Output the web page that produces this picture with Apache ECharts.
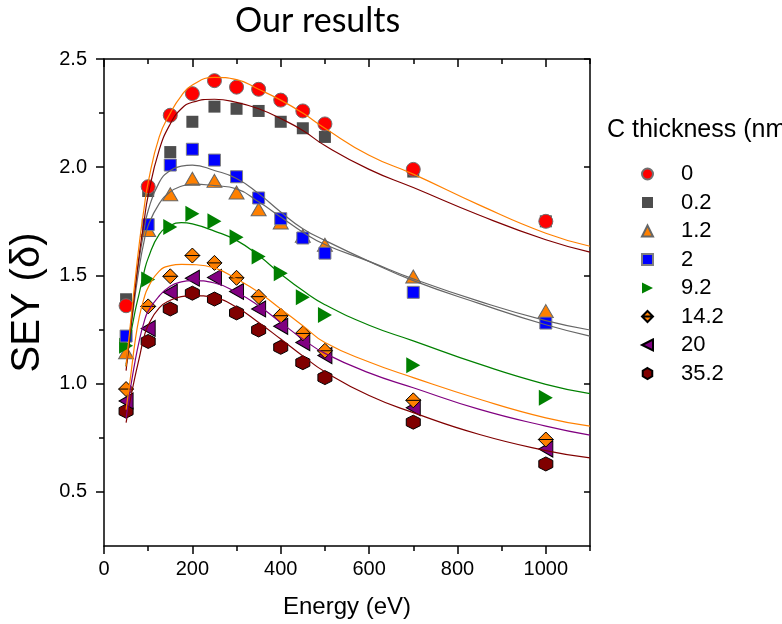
<!DOCTYPE html>
<html>
<head>
<meta charset="utf-8">
<script src="https://cdn.jsdelivr.net/npm/echarts@6/dist/echarts.min.js"></script>
<style>
  html, body { margin: 0; padding: 0; background: #ffffff; }
  #chart { width: 782px; height: 624px; }
</style>
</head>
<body>
<div id="chart"></div>
<script>
// Measured secondary electron yield (SEY) for each carbon thickness
const energies = [50, 100, 150, 200, 250, 300, 350, 400, 450, 500, 700, 1000];
const sey_0    = [1.36, 1.91, 2.24, 2.34, 2.40, 2.37, 2.36, 2.31, 2.26, 2.20, 1.99, 1.75];
const sey_0_2  = [1.39, 1.89, 2.07, 2.21, 2.28, 2.27, 2.26, 2.21, 2.18, 2.14, 1.98, 1.75];
const sey_1_2  = [1.145, 1.71, 1.875, 1.947, 1.937, 1.883, 1.806, 1.745, 1.683, 1.642, 1.495, 1.335];
const sey_2    = [1.22, 1.735, 2.01, 2.083, 2.033, 1.956, 1.858, 1.762, 1.673, 1.603, 1.422, 1.28];
const sey_9_2  = [1.175, 1.481, 1.724, 1.785, 1.75, 1.677, 1.588, 1.510, 1.399, 1.317, 1.085, 0.935];
const sey_14_2 = [0.975, 1.357, 1.496, 1.592, 1.558, 1.489, 1.402, 1.314, 1.232, 1.152, 0.923, 0.742];
const sey_20   = [0.92, 1.255, 1.422, 1.487, 1.491, 1.426, 1.345, 1.265, 1.19, 1.13, 0.889, 0.698];
const sey_35_2 = [0.873, 1.195, 1.345, 1.418, 1.391, 1.327, 1.248, 1.168, 1.097, 1.028, 0.822, 0.629];

// Fitted yield curves, sampled along the energy axis
const fitEnergies = [50, 60, 70, 80, 90, 100, 125, 150, 175, 200, 250, 300, 350, 400, 450, 500, 600, 700, 850, 1000, 1100];
const fit_0    = [1.08, 1.28, 1.47, 1.65, 1.80, 1.93, 2.14, 2.25, 2.33, 2.38, 2.415, 2.405, 2.36, 2.31, 2.25, 2.18, 2.055, 1.968, 1.825, 1.695, 1.635];
const fit_0_2  = [1.06, 1.25, 1.43, 1.60, 1.74, 1.87, 2.08, 2.20, 2.27, 2.30, 2.314, 2.30, 2.27, 2.225, 2.17, 2.10, 1.99, 1.906, 1.778, 1.665, 1.608];
const fit_1_2  = [1.08, 1.24, 1.40, 1.54, 1.65, 1.73, 1.832, 1.886, 1.912, 1.922, 1.915, 1.90, 1.84, 1.77, 1.70, 1.643, 1.565, 1.484, 1.38, 1.291, 1.248];
const fit_2    = [1.09, 1.26, 1.43, 1.58, 1.70, 1.80, 1.93, 1.985, 2.005, 2.01, 1.985, 1.948, 1.878, 1.793, 1.716, 1.662, 1.565, 1.476, 1.37, 1.272, 1.22];
const fit_9_2  = [1.08, 1.22, 1.33, 1.42, 1.51, 1.58, 1.69, 1.73, 1.744, 1.738, 1.705, 1.662, 1.592, 1.507, 1.43, 1.365, 1.27, 1.198, 1.09, 0.997, 0.954];
const fit_14_2 = [0.88, 1.03, 1.19, 1.31, 1.39, 1.445, 1.52, 1.545, 1.551, 1.55, 1.535, 1.484, 1.422, 1.345, 1.268, 1.19, 1.10, 1.028, 0.928, 0.842, 0.804];
const fit_20   = [0.84, 0.98, 1.10, 1.20, 1.28, 1.335, 1.405, 1.45, 1.47, 1.476, 1.465, 1.422, 1.36, 1.283, 1.206, 1.14, 1.05, 0.981, 0.881, 0.804, 0.762];
const fit_35_2 = [0.82, 0.93, 1.03, 1.12, 1.21, 1.27, 1.35, 1.385, 1.402, 1.407, 1.397, 1.353, 1.283, 1.206, 1.128, 1.055, 0.945, 0.866, 0.765, 0.691, 0.657];

const thicknessLabels = ['0', '0.2', '1.2', '2', '9.2', '14.2', '20', '35.2'];

// Tick positions
const xMajorTicks = [0, 200, 400, 600, 800, 1000];
const xMinorTicks = [100, 300, 500, 700, 900, 1100];
const yMajorTicks = [0.5, 1.0, 1.5, 2.0, 2.5];
const yMinorTicks = [0.75, 1.25, 1.75, 2.25];

const FONT = '"Liberation Sans", Arial, sans-serif';

const pairs = (xs, ys) => xs.map((x, i) => [x, ys[i]]);

// Marker shapes
const RIGHT_TRI = 'path://M0,0 L10,5 L0,10 Z';
const LEFT_TRI = 'path://M10,0 L0,5 L10,10 Z';
const HEXAGON = 'path://M5,0 L9.33,2.5 L9.33,7.5 L5,10 L0.67,7.5 L0.67,2.5 Z';
const SPLIT_DIAMOND = 'path://M5,0 L10,5 L5,10 L0,5 Z M0,5 L10,5';

// One entry per thickness; listed in drawing order (first drawn lowest)
const sets = [
  { name: '35.2', data: sey_35_2, fit: fit_35_2, symbol: HEXAGON, size: 14, color: '#800000', border: '#000000', bw: 1, fitColor: '#800000' },
  { name: '20', data: sey_20, fit: fit_20, symbol: LEFT_TRI, size: [14, 16], color: '#800080', border: '#000000', bw: 1, fitColor: '#800080' },
  { name: '14.2', data: sey_14_2, fit: fit_14_2, symbol: SPLIT_DIAMOND, size: 15, color: '#FF8000', border: '#000000', bw: 1, fitColor: '#FF8000' },
  { name: '1.2', data: sey_1_2, fit: fit_1_2, symbol: 'triangle', size: [15, 13], color: '#FF8000', border: '#666666', bw: 1, fitColor: '#666666' },
  { name: '9.2', data: sey_9_2, fit: fit_9_2, symbol: RIGHT_TRI, size: [14, 16], color: '#008000', border: '#008000', bw: 0, fitColor: '#008000' },
  { name: '2', data: sey_2, fit: fit_2, symbol: 'rect', size: 12, color: '#0000FF', border: '#808080', bw: 1, fitColor: '#666666' },
  { name: '0.2', data: sey_0_2, fit: fit_0_2, symbol: 'rect', size: 12, color: '#4D4D4D', border: '#4D4D4D', bw: 0, fitColor: '#800000' },
  { name: '0', data: sey_0, fit: fit_0, symbol: 'circle', size: 14, color: '#FF0000', border: '#707070', bw: 1, fitColor: '#FF8000' }
];

const series = [];
sets.forEach(s => {
  series.push({
    name: s.name,
    type: 'scatter',
    xAxisIndex: 0,
    yAxisIndex: 0,
    symbol: s.symbol,
    symbolSize: s.size,
    itemStyle: { color: s.color, borderColor: s.border, borderWidth: s.bw, opacity: 1 },
    emphasis: { disabled: true },
    data: pairs(energies, s.data),
    z: 2
  });
});
sets.forEach(s => {
  series.push({
    name: 'fit ' + s.name,
    type: 'line',
    xAxisIndex: 0,
    yAxisIndex: 0,
    showSymbol: false,
    smooth: true,
    lineStyle: { color: s.fitColor, width: 1.2 },
    emphasis: { disabled: true },
    data: pairs(fitEnergies, s.fit),
    z: 3
  });
});

const axisLine = { show: true, onZero: false, lineStyle: { color: '#000', width: 1.5 } };
const noLine = { show: false };
const tickStyle = { color: '#000', width: 1.5 };

function xAxisDef(position, values, inside, length, withLabels) {
  return {
    type: 'value', position: position, min: 0, max: 1100,
    axisLine: withLabels !== null ? axisLine : noLine,
    axisTick: { show: true, inside: inside, length: length, customValues: values, lineStyle: tickStyle },
    axisLabel: withLabels ? {
      show: true, customValues: xMajorTicks, margin: 13,
      fontFamily: FONT, fontSize: 20, color: '#000',
      formatter: v => String(v)
    } : { show: false },
    splitLine: { show: false },
    minorTick: { show: false }
  };
}
function yAxisDef(position, values, inside, length, withLabels) {
  return {
    type: 'value', position: position, min: 0.25, max: 2.5,
    axisLine: withLabels !== null ? axisLine : noLine,
    axisTick: { show: true, inside: inside, length: length, customValues: values, lineStyle: tickStyle },
    axisLabel: withLabels ? {
      show: true, customValues: yMajorTicks, margin: 17,
      fontFamily: FONT, fontSize: 20, color: '#000',
      formatter: v => v.toFixed(1)
    } : { show: false },
    splitLine: { show: false },
    minorTick: { show: false }
  };
}

const xAxes = [
  Object.assign(xAxisDef('bottom', xMajorTicks, false, 8, true), {
    name: 'Energy (eV)', nameLocation: 'middle', nameGap: 49,
    nameTextStyle: { fontFamily: FONT, fontSize: 24, color: '#000' }
  }),
  xAxisDef('bottom', xMinorTicks, false, 5, null),
  xAxisDef('top', xMajorTicks, true, 8, false),
  xAxisDef('top', xMinorTicks, true, 5, null)
];
const yAxes = [
  Object.assign(yAxisDef('left', yMajorTicks, false, 8, true), {
    name: 'SEY (δ)', nameLocation: 'middle', nameGap: 46,
    nameTextStyle: { fontFamily: FONT, fontSize: 40, color: '#000' }
  }),
  yAxisDef('left', yMinorTicks, false, 5, null),
  yAxisDef('right', yMajorTicks, true, 6, false),
  yAxisDef('right', yMinorTicks, true, 5, null)
];

const chart = echarts.init(document.getElementById('chart'), null, { renderer: 'canvas' });
chart.setOption({
  backgroundColor: '#ffffff',
  animation: false,
  title: [
    { text: 'Our results', left: 235, top: 4, padding: 0,
      textStyle: { fontFamily: 'Lato, "Open Sans", sans-serif', fontSize: 34, fontWeight: 'normal', color: '#000' } },
    { text: 'C thickness (nm)', left: 607, top: 118, padding: 0,
      textStyle: { fontFamily: FONT, fontSize: 25, fontWeight: 'normal', color: '#000' } }
  ],
  grid: { left: 104, right: 192, top: 59, bottom: 78, containLabel: false },
  legend: {
    orient: 'vertical',
    left: 636, top: 158,
    itemWidth: 11, itemHeight: 11, itemGap: 6.5,
    selectedMode: false,
    data: thicknessLabels,
    formatter: name => '{t|' + name + '}',
    textStyle: {
      fontFamily: FONT, fontSize: 22, color: '#000', lineHeight: 22,
      rich: { t: { fontFamily: FONT, fontSize: 22, lineHeight: 22, color: '#000', padding: [0, 0, 0, 23] } }
    }
  },
  xAxis: xAxes,
  yAxis: yAxes,
  series: series
});
</script>
</body>
</html>
